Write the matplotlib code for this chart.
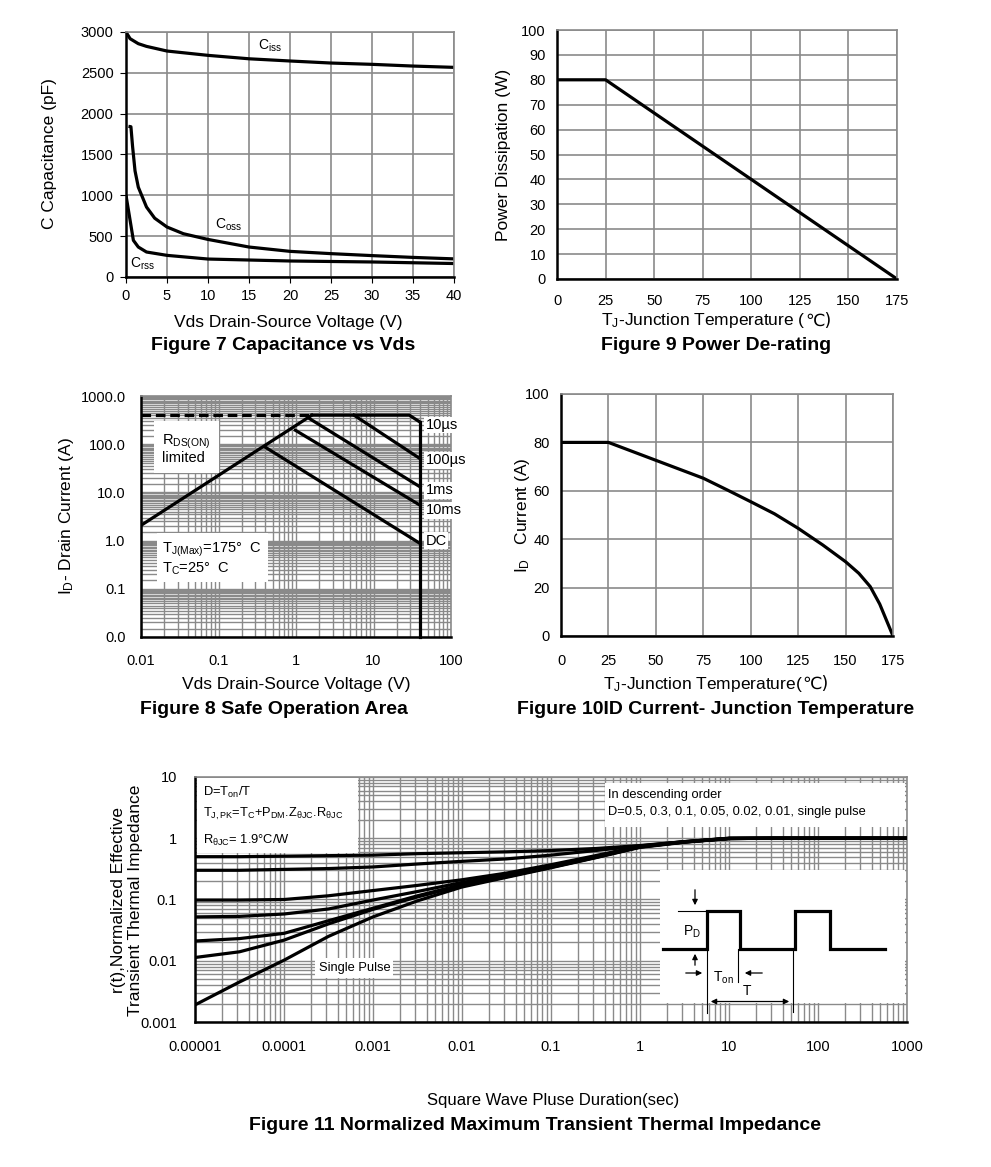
import numpy as np
import matplotlib
matplotlib.use("Agg")
import matplotlib.pyplot as plt
from matplotlib.ticker import LogLocator, FixedLocator, NullFormatter
from matplotlib.patches import Rectangle

plt.rcParams['font.family'] = ['Liberation Sans', 'DejaVu Sans']
plt.rcParams['mathtext.fontset'] = 'custom'
plt.rcParams['mathtext.rm'] = 'Liberation Sans'
plt.rcParams['mathtext.it'] = 'Liberation Sans'
plt.rcParams['mathtext.default'] = 'regular'

# ---------------- DATA ----------------
# Figure 7: capacitance vs Vds
ciss_v = [0, 0.5, 1.5, 2.5, 5, 10, 15, 20, 25, 30, 35, 40]
ciss_c = [3000, 2918, 2857, 2824, 2767, 2714, 2672, 2645, 2620, 2604, 2583, 2567]
coss_v = [0.3, 0.6, 0.8, 1.1, 1.5, 2.5, 3.5, 5, 7, 10, 15, 20, 25, 30, 35, 40]
coss_c = [1845, 1840, 1600, 1300, 1100, 857, 720, 612, 530, 460, 367, 314, 286, 262, 240, 222]
crss_v = [0, 0.5, 0.9, 1.5, 2.5, 5, 10, 20, 30, 40]
crss_c = [1000, 694, 449, 367, 306, 265, 220, 196, 184, 165]

# Figure 9: power de-rating
pd_t = [0, 25, 175]
pd_w = [80, 80, 0]

# Figure 10: ID vs junction temperature
id_t = [0, 25, 50, 75, 87.5, 100, 112.5, 125, 138, 150, 157, 163, 168, 175]
id_a = [80, 80, 72.6, 65.2, 60.4, 55.5, 50.5, 44.5, 37.6, 30.7, 25.9, 20.4, 13.2, 0]

# Figure 8: safe operating area
soa_limit_v = [0.01, 1.6]
soa_limit_a = [400, 400]
soa_10us_v = [1.6, 29, 39.5]
soa_10us_a = [400, 400, 290]
soa_rds_v = [0.01, 1.6]
soa_rds_a = [2.07, 400]
soa_100us_v = [5.6, 40]
soa_100us_a = [400, 50]
soa_1ms_v = [1.5, 40]
soa_1ms_a = [338, 13]
soa_10ms_v = [0.98, 40]
soa_10ms_a = [195, 5.4]
soa_dc_v = [0.4, 40]
soa_dc_a = [87, 0.87]
soa_vmax_v = [40, 40]
soa_vmax_a = [290, 0.01]
soa_labels = ["10\u00b5s", "100\u00b5s", "1ms", "10ms", "DC"]

# Figure 11: transient thermal impedance
zth_t = [1e-5, 3.16e-5, 1e-4, 3.16e-4, 1e-3, 3.16e-3, 1e-2, 3.16e-2, 0.1, 0.316, 1, 3.16, 10, 31.6, 100, 1000]
zth_d05 = [0.50, 0.50, 0.51, 0.52, 0.53, 0.56, 0.58, 0.60, 0.63, 0.68, 0.76, 0.88, 1.0, 1.0, 1.0, 1.0]
zth_d03 = [0.30, 0.30, 0.31, 0.32, 0.34, 0.38, 0.42, 0.46, 0.53, 0.63, 0.75, 0.88, 1.0, 1.0, 1.0, 1.0]
zth_d01 = [0.098, 0.098, 0.10, 0.115, 0.14, 0.17, 0.21, 0.27, 0.37, 0.52, 0.74, 0.88, 0.99, 1.0, 1.0, 1.0]
zth_d005 = [0.052, 0.053, 0.058, 0.07, 0.098, 0.135, 0.19, 0.25, 0.35, 0.50, 0.73, 0.87, 0.99, 1.0, 1.0, 1.0]
zth_d002 = [0.021, 0.023, 0.028, 0.045, 0.072, 0.115, 0.175, 0.24, 0.34, 0.49, 0.72, 0.87, 0.99, 1.0, 1.0, 1.0]
zth_d001 = [0.0113, 0.014, 0.0217, 0.04, 0.069, 0.11, 0.17, 0.235, 0.335, 0.485, 0.72, 0.87, 0.99, 1.0, 1.0, 1.0]
zth_single = [0.0019, 0.0045, 0.0102, 0.025, 0.052, 0.095, 0.16, 0.23, 0.33, 0.48, 0.71, 0.86, 0.99, 1.0, 1.0, 1.0]

# ---------------- LAYOUT ----------------
W, H = 991, 1167
fig = plt.figure(figsize=(W / 100, H / 100), dpi=100)
GRID = '#8a8a8a'
LW = 2.3
TICK_FS = 10.5
LAB_FS = 12.5
TITLE_FS = 14


def axpos(x0, y0, x1, y1):
    return [x0 / W, 1 - y1 / H, (x1 - x0) / W, (y1 - y0) / H]


def fx(x):
    return x / W


def fy(y):
    return 1 - y / H


def style(ax, ticklen=0, xpad=7, ypad=7):
    for s in ['left', 'bottom']:
        ax.spines[s].set_color('black')
        ax.spines[s].set_linewidth(1.8)
    for s in ['top', 'right']:
        ax.spines[s].set_color(GRID)
        ax.spines[s].set_linewidth(1.2)
    ax.tick_params(which='both', length=ticklen, labelsize=TICK_FS, colors='black')
    ax.tick_params(axis='x', pad=xpad)
    ax.tick_params(axis='y', pad=ypad)
    ax.tick_params(which='minor', length=0)
    ax.set_axisbelow(True)


def centered_pieces(pieces, xc, y, fs, bold=False):
    """Place text pieces side by side centered at xc (pixels)."""
    objs = []
    for s, fam in pieces:
        objs.append(fig.text(0, fy(y), s, fontsize=fs, family=fam, ha='left', va='center',
                             fontweight='bold' if bold else 'normal'))
    fig.canvas.draw()
    r = fig.canvas.get_renderer()
    widths = [o.get_window_extent(r).width for o in objs]
    x = xc - sum(widths) / 2
    for o, w in zip(objs, widths):
        o.set_x(fx(x))
        x += w


# ---------- Figure 7 ----------
ax7 = fig.add_axes(axpos(126, 32, 454, 277))
style(ax7, ticklen=4, xpad=5, ypad=5)
ax7.plot(ciss_v, ciss_c, color='black', lw=LW, solid_capstyle='butt')
ax7.plot(coss_v, coss_c, color='black', lw=LW, solid_capstyle='butt')
ax7.plot(crss_v, crss_c, color='black', lw=LW, solid_capstyle='butt')
ax7.set_xlim(0, 40)
ax7.set_ylim(0, 3000)
ax7.set_xticks(np.arange(0, 41, 5))
ax7.set_yticks(np.arange(0, 3001, 500))
ax7.grid(True, color=GRID, lw=1.2)
ax7.text(17.6, 2837, 'C$_{\\rm iss}$', fontsize=10, ha='center', va='center')
ax7.text(12.5, 645, 'C$_{\\rm oss}$', fontsize=10, ha='center', va='center')
ax7.text(2.0, 167, 'C$_{\\rm rss}$', fontsize=10, ha='center', va='center')
fig.text(fx(50), fy(154), 'C Capacitance (pF)', rotation=90, fontsize=LAB_FS, ha='center', va='center')
fig.text(fx(288), fy(322), 'Vds Drain-Source Voltage (V)', fontsize=LAB_FS, ha='center', va='center')
fig.text(fx(283), fy(346), 'Figure 7 Capacitance vs Vds', fontsize=TITLE_FS, fontweight='bold', ha='center', va='center')

# ---------- Figure 9 ----------
ax9 = fig.add_axes(axpos(557, 30, 897, 279))
style(ax9, xpad=11, ypad=8)
ax9.plot(pd_t, pd_w, color='black', lw=LW)
ax9.set_xlim(0, 175)
ax9.set_ylim(0, 100)
ax9.set_xticks(np.arange(0, 176, 25))
ax9.set_yticks(np.arange(0, 101, 10))
ax9.grid(True, color=GRID, lw=1.2)
fig.text(fx(503), fy(155), 'Power Dissipation (W)', rotation=90, fontsize=LAB_FS, ha='center', va='center')
centered_pieces([('T$_{\\rm J}$-Junction Temperature (', ['Liberation Sans']), ('\u2103)', ['DejaVu Sans'])], 716, 321, LAB_FS)
fig.text(fx(716), fy(346), 'Figure 9 Power De-rating', fontsize=TITLE_FS, fontweight='bold', ha='center', va='center')

# ---------- Figure 8 ----------
ax8 = fig.add_axes(axpos(141, 396, 451, 637))
style(ax8, xpad=12, ypad=11)
ax8.set_xscale('log')
ax8.set_yscale('log')
ax8.set_xlim(0.01, 100)
ax8.set_ylim(0.01, 1000)
ax8.xaxis.set_major_locator(FixedLocator([0.01, 0.1, 1, 10, 100]))
ax8.set_xticklabels(['0.01', '0.1', '1', '10', '100'])
ax8.yaxis.set_major_locator(FixedLocator([0.01, 0.1, 1, 10, 100, 1000]))
ax8.set_yticklabels(['0.0', '0.1', '1.0', '10.0', '100.0', '1000.0'])
ax8.xaxis.set_minor_locator(LogLocator(base=10, subs=np.arange(2, 10), numticks=100))
ax8.yaxis.set_minor_locator(LogLocator(base=10, subs=np.arange(1.5, 10, 0.5), numticks=100))
ax8.xaxis.set_minor_formatter(NullFormatter())
ax8.yaxis.set_minor_formatter(NullFormatter())
ax8.grid(True, which='both', color=GRID, lw=1.0)
ax8.plot(soa_limit_v, soa_limit_a, color='black', lw=LW, ls=(0, (3, 1.5)))
ax8.plot(soa_10us_v, soa_10us_a, color='black', lw=LW)
ax8.plot(soa_rds_v, soa_rds_a, color='black', lw=LW)
ax8.plot(soa_100us_v, soa_100us_a, color='black', lw=LW)
ax8.plot(soa_1ms_v, soa_1ms_a, color='black', lw=LW)
ax8.plot(soa_10ms_v, soa_10ms_a, color='black', lw=LW)
ax8.plot(soa_dc_v, soa_dc_a, color='black', lw=LW)
ax8.plot(soa_vmax_v, soa_vmax_a, color='black', lw=LW, clip_on=False)
for lab, yv in zip(soa_labels, [250, 46, 11, 4.3, 1.0]):
    ax8.text(47, yv, lab, fontsize=TICK_FS, ha='left', va='center',
             bbox=dict(facecolor='white', edgecolor='none', pad=1))
ax8.text(0.0189, 80, 'R$_{\\rm DS(ON)}$\nlimited', fontsize=TICK_FS, ha='left', va='center', linespacing=1.0,
         bbox=dict(facecolor='white', edgecolor='none', pad=6))
ax8.text(0.0189, 0.42, 'T$_{\\rm J(Max)}$=175\u00b0  C\nT$_{\\rm C}$=25\u00b0  C', fontsize=TICK_FS, ha='left',
         va='center', linespacing=1.1, bbox=dict(facecolor='white', edgecolor='none', pad=4))
fig.text(fx(66), fy(516), 'I$_{\\rm D}$- Drain Current (A)', rotation=90, fontsize=LAB_FS, ha='center', va='center')
fig.text(fx(296), fy(684), 'Vds Drain-Source Voltage (V)', fontsize=LAB_FS, ha='center', va='center')
fig.text(fx(274), fy(709), 'Figure 8 Safe Operation Area', fontsize=TITLE_FS, fontweight='bold', ha='center', va='center')

# ---------- Figure 10 ----------
ax10 = fig.add_axes(axpos(561, 394, 893, 636))
style(ax10, xpad=13, ypad=8)
ax10.plot(id_t, id_a, color='black', lw=LW)
ax10.set_xlim(0, 175)
ax10.set_ylim(0, 100)
ax10.set_xticks(np.arange(0, 176, 25))
ax10.set_yticks(np.arange(0, 101, 20))
ax10.grid(True, color=GRID, lw=1.2)
fig.text(fx(522), fy(515), 'I$_{\\rm D}$   Current (A)', rotation=90, fontsize=LAB_FS, ha='center', va='center')
centered_pieces([('T$_{\\rm J}$-Junction Temperature(', ['Liberation Sans']), ('\u2103)', ['DejaVu Sans'])], 716, 684, LAB_FS)
fig.text(fx(716), fy(709), 'Figure 10ID Current- Junction Temperature', fontsize=TITLE_FS, fontweight='bold', ha='center', va='center')

# ---------- Figure 11 ----------
X0, X1, Y0, Y1 = 195, 907, 777, 1022
ax11 = fig.add_axes(axpos(X0, Y0, X1, Y1))
style(ax11, xpad=13, ypad=13)
ax11.set_xscale('log')
ax11.set_yscale('log')
ax11.set_xlim(1e-5, 1000)
ax11.set_ylim(0.001, 10)
ax11.xaxis.set_major_locator(FixedLocator([1e-5, 1e-4, 1e-3, 1e-2, 0.1, 1, 10, 100, 1000]))
ax11.set_xticklabels(['0.00001', '0.0001', '0.001', '0.01', '0.1', '1', '10', '100', '1000'])
ax11.yaxis.set_major_locator(FixedLocator([0.001, 0.01, 0.1, 1, 10]))
ax11.set_yticklabels(['0.001', '0.01', '0.1', '1', '10'])
ax11.xaxis.set_minor_locator(LogLocator(base=10, subs=np.arange(2, 10), numticks=100))
ax11.yaxis.set_minor_locator(LogLocator(base=10, subs=np.arange(2, 10), numticks=100))
ax11.xaxis.set_minor_formatter(NullFormatter())
ax11.yaxis.set_minor_formatter(NullFormatter())
ax11.grid(True, which='both', color=GRID, lw=1.0)
for series in [zth_d05, zth_d03, zth_d01, zth_d005, zth_d002, zth_d001, zth_single]:
    ax11.plot(zth_t, series, color='black', lw=LW, zorder=3)


def afx(x):
    return (x - X0) / (X1 - X0)


def afy(y):
    return (Y1 - y) / (Y1 - Y0)


def white_box(x0, y0, x1, y1):
    ax11.add_patch(Rectangle((afx(x0), afy(y1)), afx(x1) - afx(x0), afy(y0) - afy(y1),
                             transform=ax11.transAxes, facecolor='white', edgecolor='none', zorder=1))


white_box(197, 778, 358, 853)
white_box(605, 783, 905, 827)
white_box(315, 958, 393, 978)
ANN_FS = 9.3
ax11.text(afx(203), afy(792), 'D=T$_{\\rm on}$/T', transform=ax11.transAxes, fontsize=ANN_FS, ha='left', va='center', zorder=4)
ax11.text(afx(203), afy(814), 'T$_{\\rm J,PK}$=T$_{\\rm C}$+P$_{\\rm DM}$.Z$_{\\rm \u03b8JC}$.R$_{\\rm \u03b8JC}$',
          transform=ax11.transAxes, fontsize=ANN_FS, ha='left', va='center', zorder=4)
ax11.text(afx(203), afy(840), 'R$_{\\rm \u03b8JC}$= 1.9\u00b0C/W', transform=ax11.transAxes, fontsize=ANN_FS,
          ha='left', va='center', zorder=4)
ax11.text(afx(608), afy(795), 'In descending order', transform=ax11.transAxes, fontsize=ANN_FS,
          ha='left', va='center', zorder=4)
ax11.text(afx(608), afy(812), 'D=0.5, 0.3, 0.1, 0.05, 0.02, 0.01, single pulse', transform=ax11.transAxes,
          fontsize=ANN_FS, ha='left', va='center', zorder=4)
ax11.text(afx(319), afy(968), 'Single Pulse', transform=ax11.transAxes, fontsize=ANN_FS,
          ha='left', va='center', zorder=4)

# inset pulse diagram (pixel-based schematic)
axi = fig.add_axes(axpos(660, 870, 905, 1003))
axi.set_xlim(660, 905)
axi.set_ylim(1003, 870)
axi.set_facecolor('white')
axi.set_xticks([])
axi.set_yticks([])
for s in axi.spines.values():
    s.set_visible(False)
pulse_x = [663, 706.7, 706.7, 740, 740, 795, 795, 830, 830, 885]
pulse_y = [949, 949, 910.7, 910.7, 949, 949, 910.7, 910.7, 949, 949]
axi.plot(pulse_x, pulse_y, color='black', lw=LW, solid_joinstyle='miter')
axi.plot([678, 706.7], [910.7, 910.7], color='black', lw=0.8)
for xv, y0, y1 in [(706.7, 949, 1013), (738, 949, 982), (793, 949, 1012)]:
    axi.plot([xv, xv], [y0, y1], color='black', lw=0.8, clip_on=False)
arr = dict(arrowstyle='-|>', color='black', lw=0.9, mutation_scale=8)
axi.annotate('', xy=(695, 908), xytext=(695, 887), arrowprops=arr)
axi.annotate('', xy=(695, 951), xytext=(695, 968), arrowprops=arr)
axi.annotate('', xy=(705, 973), xytext=(683, 973), arrowprops=arr)
axi.annotate('', xy=(742, 973), xytext=(765, 973), arrowprops=arr)
axi.annotate('', xy=(708, 1001.5), xytext=(792, 1001.5),
             arrowprops=dict(arrowstyle='<|-|>', color='black', lw=0.9, mutation_scale=8), annotation_clip=False)
axi.text(692, 932, 'P$_{\\rm D}$', fontsize=10, ha='center', va='center')
axi.text(723, 978, 'T$_{\\rm on}$', fontsize=10, ha='center', va='center')
axi.text(747, 991, 'T', fontsize=10, ha='center', va='center')

fig.text(fx(127), fy(900), 'r(t),Normalized Effective\nTransient Thermal Impedance', rotation=90,
         fontsize=LAB_FS, ha='center', va='center', linespacing=1.15)
fig.text(fx(553), fy(1100), 'Square Wave Pluse Duration(sec)', fontsize=12, ha='center', va='center')
fig.text(fx(535), fy(1126), 'Figure 11 Normalized Maximum Transient Thermal Impedance', fontsize=TITLE_FS,
         fontweight='bold', ha='center', va='center')

fig.savefig('out.png', dpi=100, facecolor='white')
